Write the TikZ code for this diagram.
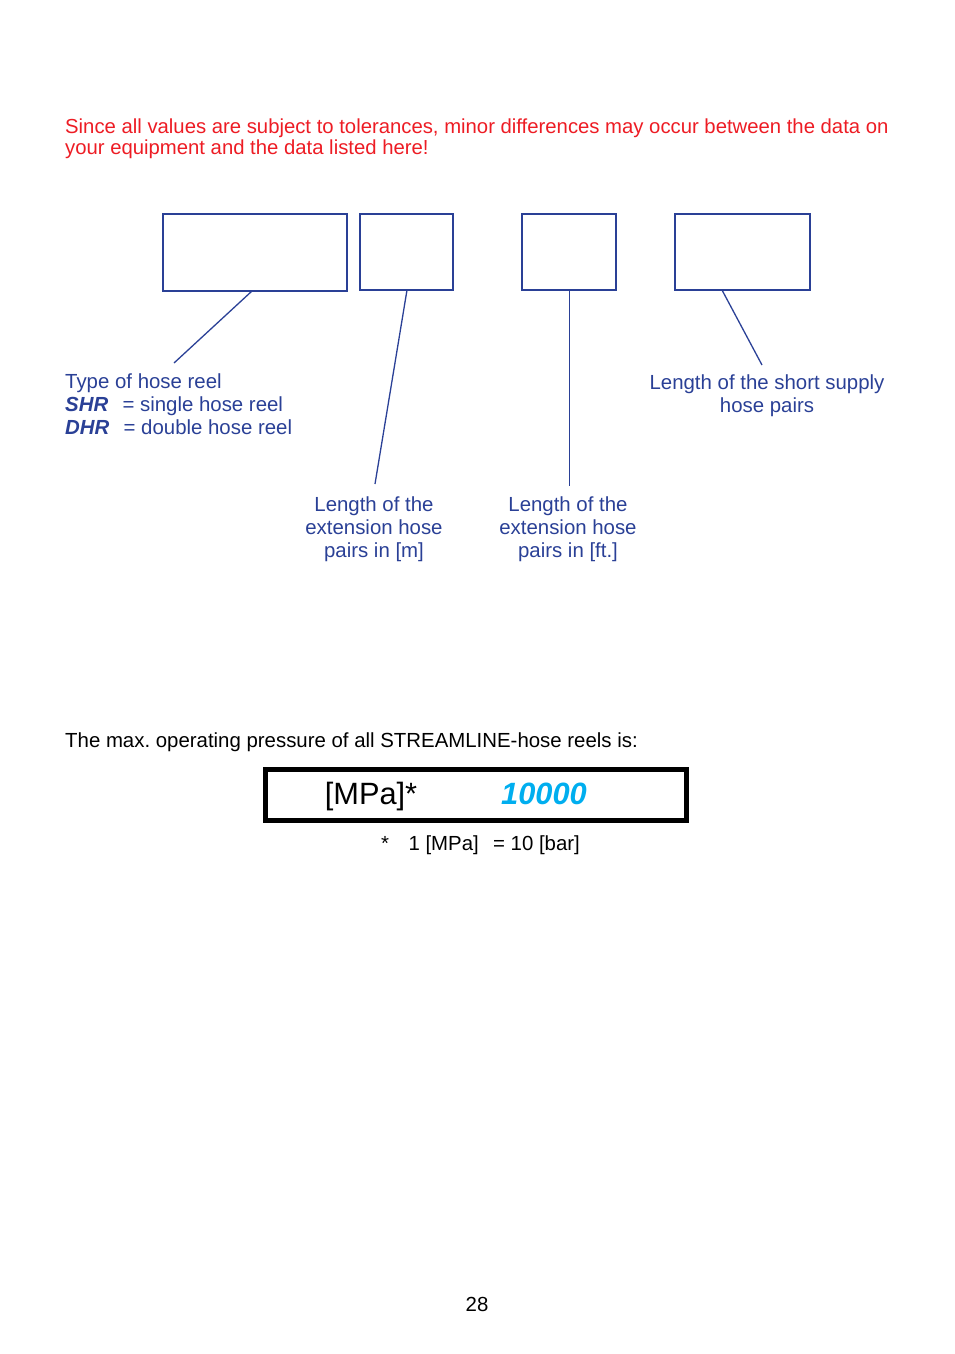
\documentclass[tikz,border=0pt]{standalone}
\usepackage{fontspec}
\setmainfont{Liberation Sans}
\frenchspacing
\definecolor{dblue}{RGB}{42,64,150}
\definecolor{warnred}{RGB}{237,28,36}
\definecolor{cyanv}{RGB}{0,174,239}
\begin{document}
\begin{tikzpicture}[x=1pt,y=-1pt,
  fieldbox/.style={draw=dblue,line width=2pt},
  lead/.style={draw=dblue,line width=1.3pt},
  bluetxt/.style={text=dblue,inner sep=0pt,font=\fontsize{20.4}{23}\selectfont},
  blacktxt/.style={text=black,inner sep=0pt,font=\fontsize{20.4}{23}\selectfont}]
\useasboundingbox (0,0) rectangle (954,1354);
% warning
\node[anchor=base west,inner sep=0pt,text=warnred,align=left,font=\fontsize{20.3}{21}\selectfont] (warn) at (65,154)
  {Since all values are subject to tolerances, minor differences may occur between the data on\\your equipment and the data listed here!};
% boxes
\draw[fieldbox] (163,214) rectangle (347,291);
\coordinate (b1) at (252,291);
\draw[fieldbox] (360,214) rectangle (453,290);
\coordinate (b2) at (407,290);
\draw[fieldbox] (522,214) rectangle (616,290);
\coordinate (b3) at (569,290);
\draw[fieldbox] (675,214) rectangle (810,290);
\coordinate (b4) at (722,290);
% labels
\node[bluetxt,anchor=base west,align=left] (type) at (65,434)
  {Type of hose reel\\\textbf{\textit{SHR}}\hspace{0.7em}= single hose reel\\\textbf{\textit{DHR}}\hspace{0.7em}= double hose reel};
\node[bluetxt,anchor=base,align=center] (extm) at (374,557)
  {Length of the\\extension hose\\pairs in [m]};
\node[bluetxt,anchor=base,align=center] (extft) at (568,557)
  {Length of the\\extension hose\\pairs in [ft.]};
\node[bluetxt,anchor=base,align=center] (short) at (767,412)
  {Length of the short supply\\hose pairs};
\coordinate (e1) at (174,363);
\coordinate (e2) at (375,484);
\coordinate (e3) at (569,486);
\coordinate (e4) at (762,365);
\draw[lead] (b1) -- (e1);
\draw[lead] (b2) -- (e2);
\draw[draw=dblue,line width=1pt] (b3) -- (e3);
\draw[lead] (b4) -- (e4);
% pressure
\node[blacktxt,anchor=base west] (maxp) at (65,747) {The max. operating pressure of all STREAMLINE-hose reels is:};
\draw[line width=4.5pt] (265.5,769.5) rectangle (686.5,820.5);
\node[inner sep=0pt,anchor=base,font=\fontsize{30.8}{34}\selectfont] (mpa) at (371,804) {[MPa]*};
\node[inner sep=0pt,anchor=base,text=cyanv,font=\fontsize{30.8}{34}\selectfont\bfseries\itshape] (val) at (544,804) {10000};
\node[blacktxt,anchor=base west] (foot) at (381,850) {*\hspace{0.95em}1 [MPa]\hspace{0.7em}= 10 [bar]};
\node[blacktxt,anchor=base] (page) at (477,1311) {28};
\end{tikzpicture}
\end{document}
